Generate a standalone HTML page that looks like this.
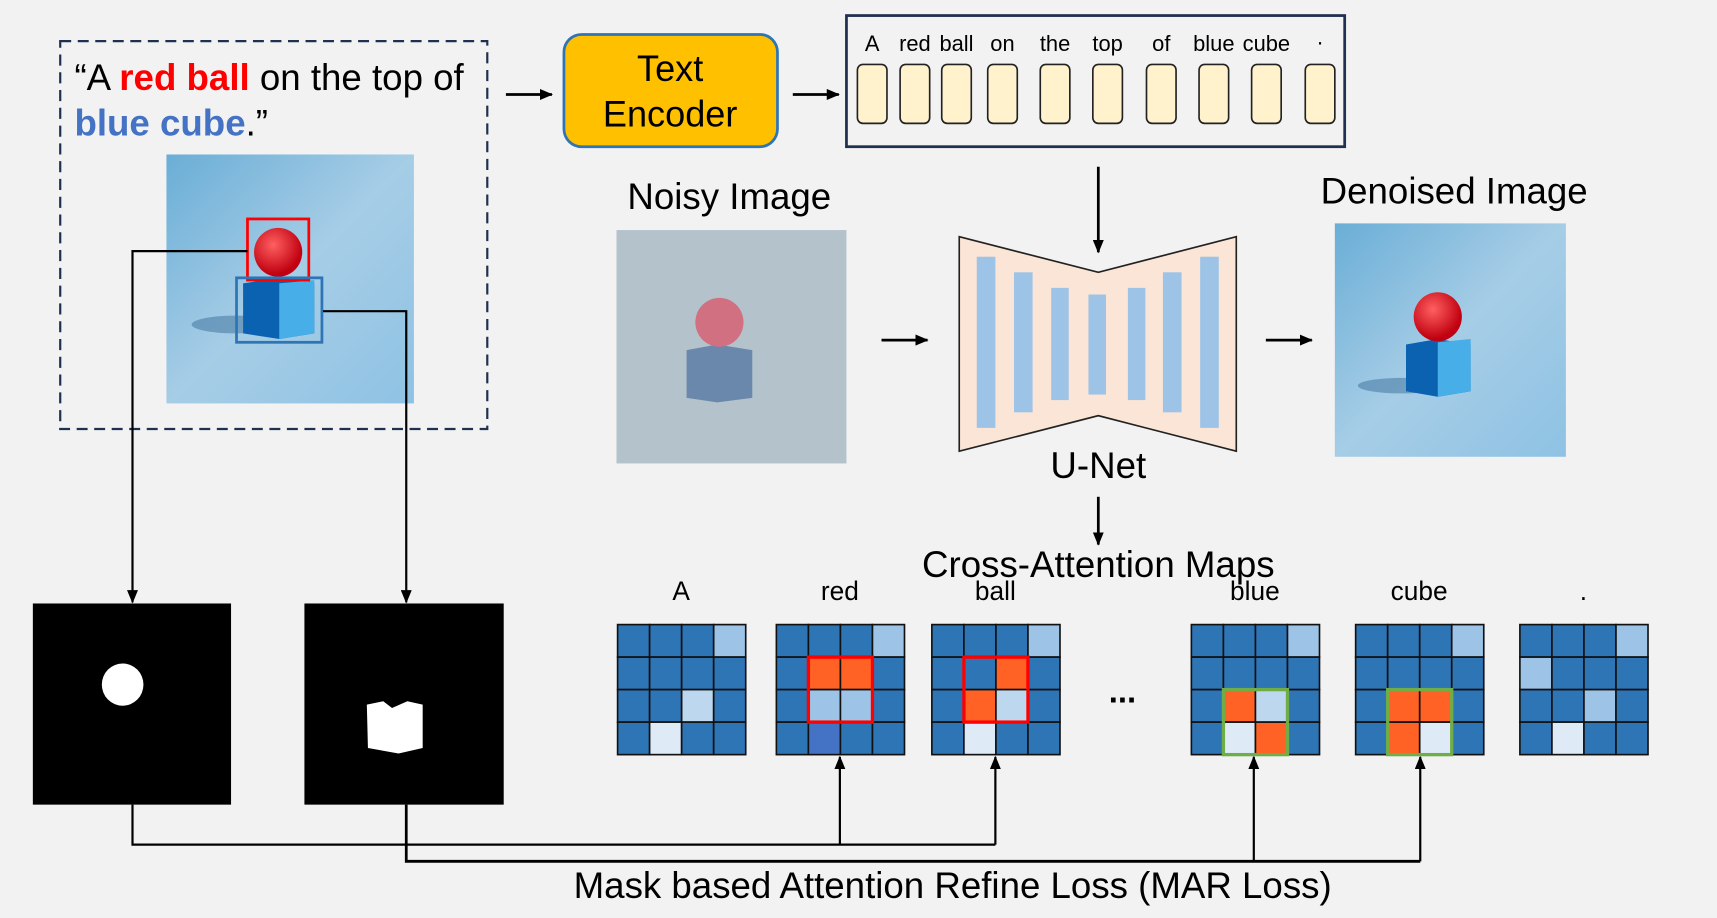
<!DOCTYPE html>
<html><head><meta charset="utf-8"><style>
html,body{margin:0;padding:0;background:#f2f2f2}
svg{display:block}
text{font-family:"Liberation Sans",sans-serif}
</style></head><body>
<svg id="s" width="1717" height="918" viewBox="0 0 1568 826" preserveAspectRatio="none" xmlns="http://www.w3.org/2000/svg">
<defs>
<marker id="ah" markerWidth="12" markerHeight="10" refX="11" refY="5" orient="auto" markerUnits="userSpaceOnUse"><path d="M0,0 L12,5 L0,10 z" fill="#000"/></marker>
<linearGradient id="bg1" x1="0" y1="0" x2="1" y2="1"><stop offset="0" stop-color="#6aaed6"/><stop offset="0.5" stop-color="#a6cde6"/><stop offset="1" stop-color="#8ec2e4"/></linearGradient>
<radialGradient id="ball" cx="0.4" cy="0.35" r="0.6"><stop offset="0" stop-color="#ff6060"/><stop offset="1" stop-color="#c00010"/></radialGradient>
</defs>
<rect width="1568" height="826" fill="#f2f2f2"/>
<rect x="55" y="37" width="390" height="349" fill="none" stroke="#1f3050" stroke-width="2" stroke-dasharray="10,6"/>
<text x="68" y="81" font-size="33.5" fill="#000">“A <tspan fill="#ff0000" font-weight="bold">red ball</tspan> on the top of</text>
<text x="68" y="122" font-size="33.5" fill="#000"><tspan fill="#4472c4" font-weight="bold">blue cube</tspan>.”</text>
<rect x="152" y="139" width="226" height="224" fill="url(#bg1)"/>
<ellipse cx="215" cy="292" rx="40" ry="8" fill="#3a6e9a" opacity="0.5"/>
<polygon points="222,255 255,250 287,255 287,300 255,305 222,300" fill="#0a62b0"/>
<polygon points="255,255 287,252 287,300 255,305" fill="#47aee8"/>
<circle cx="254" cy="227" r="22" fill="url(#ball)"/>
<rect x="226" y="197" width="56" height="55" fill="none" stroke="#ff0000" stroke-width="2.5"/>
<rect x="216" y="250" width="78" height="58" fill="none" stroke="#2e75b6" stroke-width="2.5"/>
<line x1="462" y1="85" x2="504" y2="85" stroke="#000" stroke-width="2.5" marker-end="url(#ah)"/>
<rect x="515" y="31" width="195" height="101" rx="16" fill="#ffc000" stroke="#2e75b6" stroke-width="2.5"/>
<text x="612" y="73" font-size="33" text-anchor="middle">Text</text>
<text x="612" y="114" font-size="33" text-anchor="middle">Encoder</text>
<line x1="724" y1="85" x2="766" y2="85" stroke="#000" stroke-width="2.5" marker-end="url(#ah)"/>
<rect x="773" y="14" width="455" height="118" fill="#f2f2f2" stroke="#1f3050" stroke-width="2.5"/>
<g id="tok"></g>
<line x1="1003" y1="150" x2="1003" y2="227" stroke="#000" stroke-width="2.5" marker-end="url(#ah)"/>
<text x="666" y="188" font-size="33.5" text-anchor="middle">Noisy Image</text>
<rect x="563" y="207" width="210" height="210" fill="#b4c2cc"/>
<polygon points="627,315 655,310 687,315 687,358 655,362 627,358" fill="#6a88ac"/>
<circle cx="657" cy="290" r="22" fill="#d07080"/>
<line x1="805" y1="306" x2="847" y2="306" stroke="#000" stroke-width="2.5" marker-end="url(#ah)"/>
<polygon points="876,213 1003,245 1129,213 1129,406 1003,374 876,406" fill="#fbe5d6" stroke="#222" stroke-width="1.5"/>
<rect x="892" y="231" width="17" height="154" fill="#9dc3e6"/>
<rect x="926" y="245" width="17" height="126" fill="#9dc3e6"/>
<rect x="960" y="259" width="16" height="101" fill="#9dc3e6"/>
<rect x="994" y="265" width="16" height="90" fill="#9dc3e6"/>
<rect x="1030" y="259" width="16" height="101" fill="#9dc3e6"/>
<rect x="1062" y="245" width="17" height="126" fill="#9dc3e6"/>
<rect x="1096" y="231" width="17" height="154" fill="#9dc3e6"/>
<text x="1003" y="430" font-size="33.5" text-anchor="middle">U-Net</text>
<line x1="1003" y1="447" x2="1003" y2="490" stroke="#000" stroke-width="2.5" marker-end="url(#ah)"/>
<text x="1003" y="519" font-size="33.5" text-anchor="middle">Cross-Attention Maps</text>
<line x1="1156" y1="306" x2="1198" y2="306" stroke="#000" stroke-width="2.5" marker-end="url(#ah)"/>
<text x="1328" y="183" font-size="33.5" text-anchor="middle">Denoised Image</text>
<rect x="1219" y="201" width="211" height="210" fill="url(#bg1)"/>
<ellipse cx="1280" cy="347" rx="40" ry="7" fill="#3a6e9a" opacity="0.5"/>
<polygon points="1284,310 1313,305 1343,310 1343,352 1313,357 1284,352" fill="#0a62b0"/>
<polygon points="1313,308 1343,305 1343,352 1313,357" fill="#47aee8"/>
<circle cx="1313" cy="285" r="22" fill="url(#ball)"/>
<rect x="30" y="543" width="181" height="181" fill="#000"/>
<circle cx="112" cy="616" r="19" fill="#fff"/>
<rect x="278" y="543" width="182" height="181" fill="#000"/>
<path d="M335,634 L350,631 L358,637 L372,631 L386,634 L386,673 L364,678 L336,673 Z" fill="#fff"/>
<polyline points="226,226 121,226 121,542" fill="none" stroke="#000" stroke-width="2" marker-end="url(#ah)"/>
<polyline points="295,280 371,280 371,542" fill="none" stroke="#000" stroke-width="2" marker-end="url(#ah)"/>
<polyline points="121,724 121,760 909,760" fill="none" stroke="#000" stroke-width="2"/>
<polyline points="371,724 371,775 1297,775" fill="none" stroke="#000" stroke-width="2.5"/>
<line x1="767" y1="760" x2="767" y2="681" stroke="#000" stroke-width="2" marker-end="url(#ah)"/>
<line x1="909" y1="760" x2="909" y2="681" stroke="#000" stroke-width="2" marker-end="url(#ah)"/>
<line x1="1145" y1="775" x2="1145" y2="681" stroke="#000" stroke-width="2" marker-end="url(#ah)"/>
<line x1="1297" y1="775" x2="1297" y2="681" stroke="#000" stroke-width="2" marker-end="url(#ah)"/>
<text x="870" y="808" font-size="33.5" text-anchor="middle">Mask based Attention Refine Loss (MAR Loss)</text>
<text x="1025" y="632" font-size="30" font-weight="bold" text-anchor="middle">...</text>
<g id="grids"></g>
</svg>
<script>
var NS="http://www.w3.org/2000/svg";
function el(p,t,a,txt){var e=document.createElementNS(NS,t);for(var k in a)e.setAttribute(k,a[k]);if(txt)e.textContent=txt;p.appendChild(e);return e;}
var tok=document.getElementById('tok');
var tx=[783,822,860,902,950,998,1047,1095,1143,1192],tl=["A","red","ball","on","the","top","of","blue","cube","."];
tx.forEach(function(x,i){el(tok,'rect',{x:x,y:58,width:27,height:53,rx:5,fill:'#fff2cc',stroke:'#222','stroke-width':1.5});
el(tok,'text',{x:x+13.5,y:i==9?40:46,'font-size':20,'text-anchor':'middle'},tl[i]);});
var D='#2e75b6',L='#9dc3e6',M='#bdd7ee',V='#deebf7',O='#ff6224',B='#4472c4';
var G=[
{x:564,lab:"A",c:{"0,3":L,"2,2":M,"3,1":V}},
{x:709,lab:"red",c:{"0,3":L,"1,1":O,"1,2":O,"2,1":L,"2,2":L,"3,1":B},box:[1,1,'#ff0000']},
{x:851,lab:"ball",c:{"0,3":L,"1,2":O,"2,1":O,"2,2":M,"3,1":V},box:[1,1,'#ff0000']},
{x:1088,lab:"blue",c:{"0,3":L,"2,1":O,"2,2":M,"3,1":V,"3,2":O},box:[2,1,'#70ad47']},
{x:1238,lab:"cube",c:{"0,3":L,"2,1":O,"2,2":O,"3,1":O,"3,2":V},box:[2,1,'#70ad47']},
{x:1388,lab:".",c:{"0,3":L,"1,0":L,"2,2":L,"3,1":V}}];
var g=document.getElementById('grids'),y0=562,cs=29.25;
G.forEach(function(o){
 el(g,'text',{x:o.x+58,y:540,'font-size':24,'text-anchor':'middle'},o.lab);
 for(var r=0;r<4;r++)for(var c=0;c<4;c++)el(g,'rect',{x:o.x+c*cs,y:y0+r*cs,width:cs,height:cs,fill:o.c[r+","+c]||D,stroke:'#111','stroke-width':1.5});
 if(o.box)el(g,'rect',{x:o.x+o.box[1]*cs,y:y0+o.box[0]*cs,width:2*cs,height:2*cs,fill:'none',stroke:o.box[2],'stroke-width':3});
});
</script>
</body></html>
